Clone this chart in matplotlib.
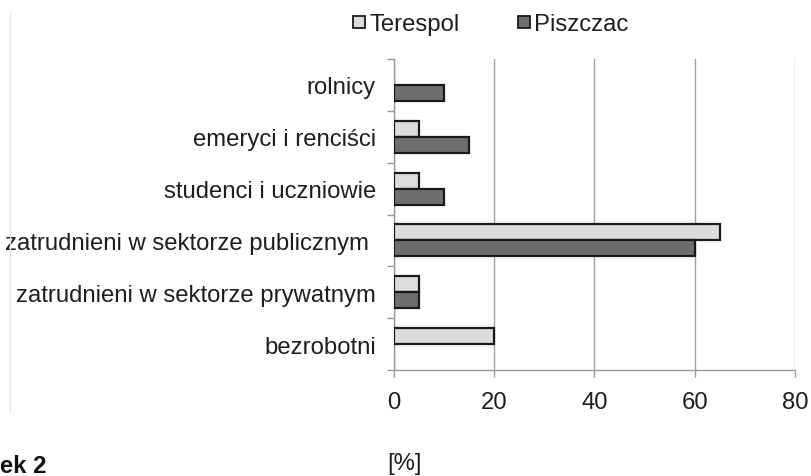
import numpy as np
import matplotlib.pyplot as plt
from matplotlib.lines import Line2D

plt.rcParams['font.family'] = ['Liberation Sans', 'DejaVu Sans']

categories = ["rolnicy", "emeryci i renciści", "studenci i uczniowie",
              "zatrudnieni w sektorze publicznym ", "zatrudnieni w sektorze prywatnym",
              "bezrobotni"]
terespol = [0, 5, 5, 65, 5, 20]
piszczac = [10, 15, 10, 60, 5, 0]
xticks = [0, 20, 40, 60, 80]

fs = 17.2
fig = plt.figure(figsize=(8.12, 4.77), dpi=100)
ax = fig.add_axes([394 / 812, 1 - 371 / 477, 401 / 812, 311 / 477])

y = np.arange(len(categories))
h = 0.31
light = '#dcdcdc'
dark = '#6e6e6e'

ax.barh(y - h / 2, terespol, height=h, color=light, edgecolor='#1a1a1a',
        linewidth=[1.6 if v > 0 else 0 for v in terespol], label='Terespol', zorder=3)
ax.barh(y + h / 2, piszczac, height=h, color=dark, edgecolor='#1a1a1a',
        linewidth=[1.6 if v > 0 else 0 for v in piszczac], label='Piszczac', zorder=3)

ax.set_ylim(len(categories) - 0.5, -0.5)
ax.set_xlim(0, 80)
ax.set_yticks(y)
ax.set_yticklabels(categories)
ax.set_yticks(np.arange(-0.5, len(categories)), minor=True)
ax.set_xticks(xticks)
ax.tick_params(axis='y', which='major', length=0, pad=13, labelsize=fs, labelcolor='#1e1e1e')
ax.tick_params(axis='y', which='minor', length=5, color='#999999', width=1)
ax.tick_params(axis='x', length=5, color='#999999', width=1, pad=10, labelsize=fs,
               labelcolor='#1e1e1e')

ax.grid(axis='x', color='#a0a0a0', linewidth=1, zorder=0)
for s in ['top', 'right']:
    ax.spines[s].set_visible(False)
for s in ['left', 'bottom']:
    ax.spines[s].set_color('#999999')
    ax.spines[s].set_linewidth(1)

handles = [Line2D([], [], marker='s', linestyle='none', markersize=8,
                  markerfacecolor=light, markeredgecolor='#1a1a1a', markeredgewidth=1.3),
           Line2D([], [], marker='s', linestyle='none', markersize=8,
                  markerfacecolor=dark, markeredgecolor='#1a1a1a', markeredgewidth=1.3)]
fig.legend(handles, ['Terespol', 'Piszczac'], loc='center', ncol=2, frameon=False,
           bbox_to_anchor=(490 / 812, 1 - 25 / 477), fontsize=fs, handlelength=0.6,
           handletextpad=0.12, columnspacing=2.4, labelcolor='#1e1e1e')

# faint frame line on the left
fig.add_artist(Line2D([10 / 812, 10 / 812], [1 - 13 / 477, 1 - 413 / 477],
                      color='#e6e6e6', linewidth=1))

fig.text(387 / 812, 1 - 453 / 477, '[%]', fontsize=fs, va='top', ha='left', color='#1e1e1e')
fig.text(0, 1 - 455 / 477, 'ek 2', fontsize=fs, fontweight='bold', va='top', ha='left',
         color='#111111')

fig.savefig('out.png', dpi=100)
